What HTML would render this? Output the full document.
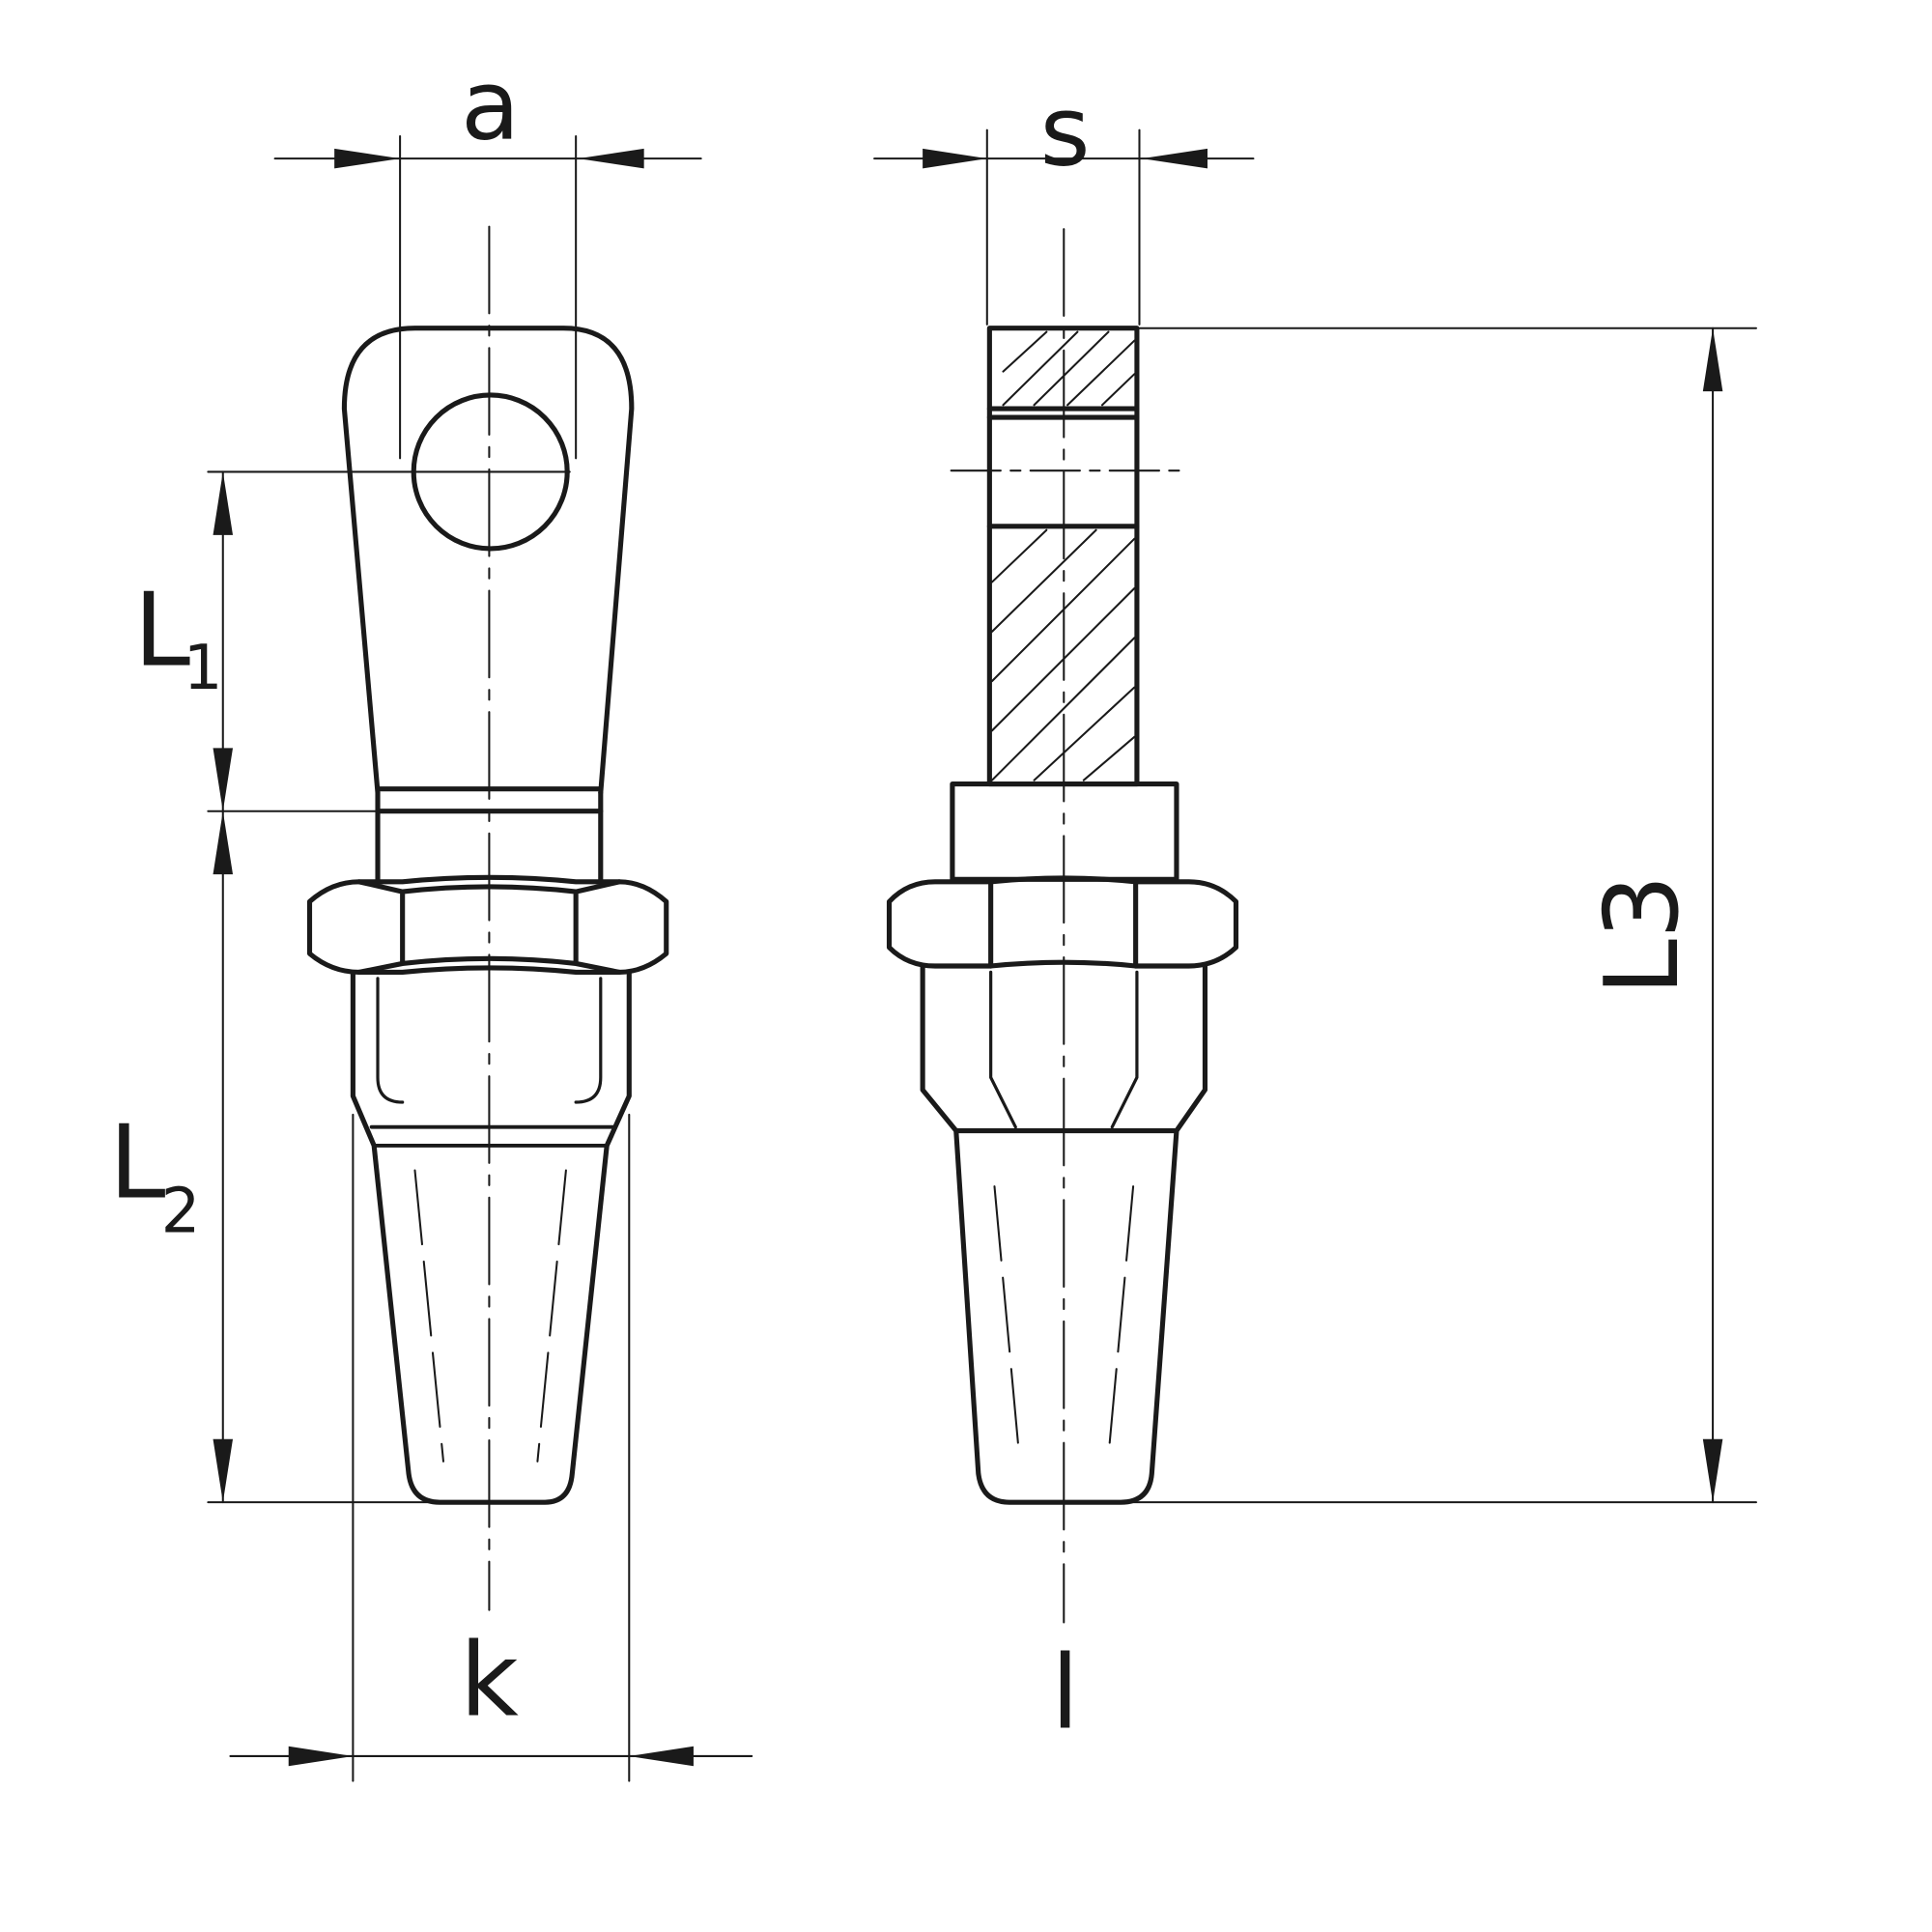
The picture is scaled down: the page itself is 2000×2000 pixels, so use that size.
<!DOCTYPE html>
<html><head><meta charset="utf-8"><style>
html,body{margin:0;padding:0;background:#fff}
svg{display:block}
text{font-family:"DejaVu Sans","Liberation Sans",sans-serif;fill:#1a1a1a}
</style></head><body>
<svg width="2000" height="2000" viewBox="0 0 1560 1560" xmlns="http://www.w3.org/2000/svg">
<g fill="none" stroke="#1a1a1a" stroke-linecap="round" stroke-linejoin="round">
<!-- thin dimension lines -->
<g stroke-width="1.6">
<line x1="222" y1="128" x2="566" y2="128"/>
<line x1="323" y1="110" x2="323" y2="370"/>
<line x1="465" y1="110" x2="465" y2="370"/>
<line x1="168" y1="381" x2="460" y2="381"/>
<line x1="168" y1="655" x2="305" y2="655"/>
<line x1="168" y1="1213" x2="355" y2="1213"/>
<line x1="180" y1="381" x2="180" y2="1213"/>
<line x1="285" y1="900" x2="285" y2="1438"/>
<line x1="508" y1="900" x2="508" y2="1438"/>
<line x1="186" y1="1418" x2="607" y2="1418"/>
<line x1="706" y1="128" x2="1012" y2="128"/>
<line x1="797" y1="105" x2="797" y2="262"/>
<line x1="920" y1="105" x2="920" y2="262"/>
<line x1="920" y1="265" x2="1418" y2="265"/>
<line x1="900" y1="1213" x2="1418" y2="1213"/>
<line x1="1383" y1="265" x2="1383" y2="1213"/>
<!-- center lines -->
<line x1="395" y1="183" x2="395" y2="1300" stroke-dasharray="70 10 8 10"/>
<line x1="859" y1="185" x2="859" y2="1310" stroke-dasharray="70 10 8 10"/>
<line x1="768" y1="380" x2="958" y2="380" stroke-dasharray="40 8 8 8"/>
<!-- hatching -->
<line x1="810" y1="300" x2="845" y2="268"/>
<line x1="810" y1="327" x2="870" y2="268"/>
<line x1="835" y1="327" x2="895" y2="268"/>
<line x1="862" y1="327" x2="916" y2="275"/>
<line x1="890" y1="327" x2="916" y2="302"/>
<line x1="801" y1="470" x2="845" y2="428"/>
<line x1="801" y1="510" x2="885" y2="428"/>
<line x1="801" y1="550" x2="916" y2="435"/>
<line x1="801" y1="590" x2="916" y2="475"/>
<line x1="801" y1="630" x2="916" y2="515"/>
<line x1="835" y1="630" x2="916" y2="555"/>
<line x1="875" y1="630" x2="916" y2="595"/>
<!-- taper dashed lines -->
<g stroke-dasharray="60 14">
<line x1="335" y1="945" x2="358" y2="1180"/>
<line x1="457" y1="945" x2="434" y2="1180"/>
<line x1="803" y1="958" x2="822" y2="1165"/>
<line x1="915" y1="958" x2="896" y2="1165"/>
</g>
</g>
<!-- arrows -->
<g fill="#1a1a1a" stroke="none">
<polygon points="270,120 323,128 270,136"/>
<polygon points="520,120 467,128 520,136"/>
<polygon points="745,120 797,128 745,136"/>
<polygon points="975,120 922,128 975,136"/>
<polygon points="172,432 180,381 188,432"/>
<polygon points="172,604 180,655 188,604"/>
<polygon points="172,706 180,655 188,706"/>
<polygon points="172,1162 180,1213 188,1162"/>
<polygon points="233,1410 285,1418 233,1426"/>
<polygon points="560,1410 508,1418 560,1426"/>
<polygon points="1375,316 1383,265 1391,316"/>
<polygon points="1375,1162 1383,1213 1391,1162"/>
</g>
<!-- thick outlines -->
<g stroke-width="4">
<!-- left eye -->
<path d="M305,640 L278,330 Q278,265 335,265 L455,265 Q510,265 510,330 L485,640"/>
<circle cx="396" cy="381" r="62"/>
<line x1="305" y1="637" x2="485" y2="637"/>
<line x1="305" y1="655" x2="485" y2="655"/>
<path d="M305,640 L305,710 M485,640 L485,710"/>
<!-- left hex -->
<path d="M325,712 Q395,705 465,712 L500,712 Q520,712 538,728 L538,770 Q520,785 500,785 L465,785 Q395,778 325,785 L290,785 Q268,785 250,770 L250,728 Q268,712 290,712 Z"/>
<path d="M290,712 L325,720 L325,778 L290,785 M500,712 L465,720 L465,778 L500,785 M325,720 Q395,712 465,720 M325,778 Q395,770 465,778"/>
<!-- left body -->
<path d="M285,785 L285,885 L302,925 L330,1190 Q333,1213 355,1213 L440,1213 Q460,1213 462,1190 L490,925 L508,885 L508,785"/>
<line x1="300" y1="910" x2="495" y2="910" stroke-width="3"/>
<line x1="302" y1="925" x2="490" y2="925" stroke-width="3"/>
<path d="M305,790 L305,870 Q305,890 325,890 M485,790 L485,870 Q485,890 465,890" stroke-width="2.5"/>
<!-- right bar -->
<rect x="799" y="265" width="119" height="368"/>
<line x1="799" y1="330" x2="918" y2="330"/>
<line x1="799" y1="337" x2="918" y2="337"/>
<line x1="799" y1="425" x2="918" y2="425"/>
<rect x="769" y="633" width="181" height="77"/>
<!-- right hex -->
<path d="M800,712 Q859,706 917,712 L960,712 Q982,712 998,728 L998,765 Q982,780 960,780 L917,780 Q859,774 800,780 L755,780 Q733,780 718,765 L718,728 Q733,712 755,712 Z"/>
<path d="M800,712 L800,780 M917,712 L917,780"/>
<!-- right body -->
<path d="M745,780 L745,880 L772,913 L790,1190 Q793,1213 815,1213 L905,1213 Q928,1213 930,1190 L950,913 L973,880 L973,780"/>
<line x1="772" y1="913" x2="950" y2="913"/>
<path d="M800,785 L800,870 L820,910 M918,785 L918,870 L898,910" stroke-width="2.5"/>
</g>
</g>
<!-- labels -->
<text x="396" y="112" font-size="78" text-anchor="middle">a</text>
<text x="860" y="133" font-size="78" text-anchor="middle">s</text>
<text x="108" y="537" font-size="82">L</text>
<text x="148" y="556" font-size="50">1</text>
<text x="88" y="967" font-size="82">L</text>
<text x="130" y="995" font-size="50">2</text>
<text x="395" y="1385" font-size="82" text-anchor="middle">k</text>
<text x="860" y="1395" font-size="82" text-anchor="middle">l</text>
<text x="0" y="0" font-size="82" text-anchor="middle" transform="translate(1354,755) rotate(-90)">L3</text>
</svg>
</body></html>
